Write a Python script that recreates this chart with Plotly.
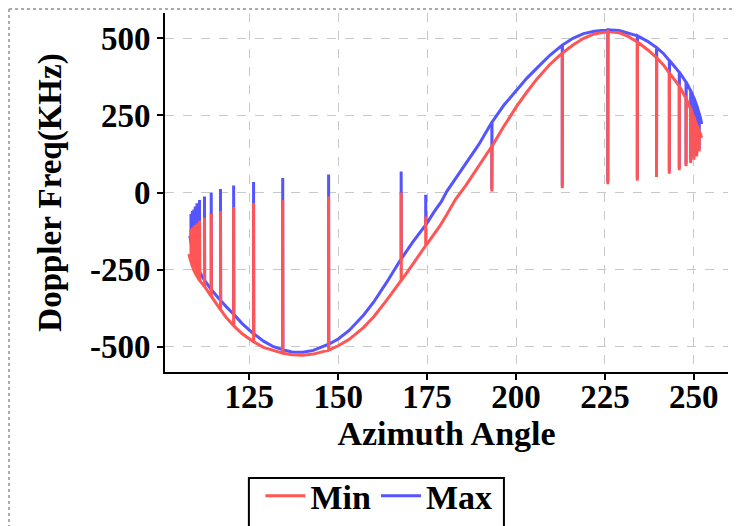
import plotly.graph_objects as go

# main curves (azimuth deg, doppler KHz)
min_az = [108.0, 108.6, 109.0, 109.4, 109.8, 110.3, 111.0, 112.4, 114.3, 116.9,
          118.5, 120.6, 123.0, 126.2, 129.0, 131.8, 134.4, 137.0, 140.0, 143.0,
          147.3, 150.0, 153.0, 157.1, 160.0, 163.7, 167.7, 171.0, 174.6, 176.5,
          178.5, 180.5, 183.0, 186.0, 189.5, 193.2, 196.5, 200.2, 203.0, 206.0,
          209.5, 213.0, 216.0, 219.0, 222.0, 225.8, 229.0, 231.5, 234.1, 237.0,
          239.5, 241.5, 243.1, 245.9, 247.8, 249.1, 250.0, 250.8, 251.5, 252.0,
          252.2]
min_val = [-200, -225, -240, -252, -262, -272, -285, -305, -337, -380,
           -405, -432, -458, -484, -502, -513, -521, -526, -528, -524,
           -511, -497, -477, -438, -403, -348, -285, -232, -172, -142,
           -110, -72, -22, 25, 85, 150, 213, 280, 325, 370,
           415, 452, 478, 500, 514, 522, 518, 506, 488, 463,
           437, 413, 387, 345, 305, 270, 244, 218, 198, 185,
           177]

max_az = [108.3, 108.6, 109.0, 109.4, 109.8, 110.3, 111.0, 112.4, 114.3, 116.9,
          118.5, 120.6, 123.0, 126.2, 129.0, 131.8, 134.4, 137.0, 140.0, 143.0,
          147.3, 150.0, 153.0, 157.1, 160.0, 163.7, 167.7, 171.0, 174.6, 177.0,
          179.0, 180.5, 183.0, 186.0, 189.5, 193.2, 196.5, 200.2, 203.0, 206.0,
          209.5, 213.0, 216.0, 219.0, 222.0, 225.8, 229.0, 232.0, 234.1, 237.0,
          239.5, 241.5, 243.1, 245.9, 247.8, 249.1, 250.0, 250.8, 251.5, 252.0,
          252.2]
max_val = [-140, -165, -190, -210, -225, -240, -258, -285, -315, -350,
           -370, -395, -425, -458, -482, -500, -510, -517, -518, -512,
           -492, -475, -448, -398, -355, -290, -215, -160, -105, -62,
           -30, 3, 45, 95, 155, 228, 282, 332, 370, 405,
           445, 478, 500, 515, 523, 527, 525, 516, 508, 490,
           470, 450, 428, 390, 358, 330, 306, 282, 255, 235,
           222]

# spikes: azimuth -> tip value
spike_az = [108.6, 109.0, 109.4, 109.8, 110.3, 111.0, 112.4, 114.3, 116.9, 120.6,
            126.2, 134.4, 147.3, 167.7, 174.6, 193.2, 213.0, 225.8, 234.1, 239.5,
            243.1, 245.9, 247.8, 249.1, 250.0, 250.8, 251.5]
spike_min = [-120, -115, -110, -105, -100, -92, -81, -70, -60, -47,
             -35, -24, -13, 0, -78, 3, 14, 27, 38, 50,
             61, 72, 85, 96, 106, 117, 133]
spike_max = [-70, -60, -55, -45, -35, -24, -13, 0, 11, 23,
             34, 47, 58, 68, -7, 12, 22, 35, 45, 58,
             70, 80, 92, 104, 114, 124, 140]

x_ticks = [125, 150, 175, 200, 225, 250]
y_ticks = [-500, -250, 0, 250, 500]
y_labels = ["-500", "-250", "0", "250", "500"]


def with_spikes(az, val, tips):
    tip = dict(zip(spike_az, tips))
    xs, ys = [], []
    for a, v in zip(az, val):
        xs.append(a)
        ys.append(v)
        if a in tip:
            xs += [a, a + 0.05]
            ys += [tip[a], v]
    return xs, ys


mx, my = with_spikes(max_az, max_val, spike_max)
nx, ny = with_spikes(min_az, min_val, spike_min)

font = "Liberation Serif"
fig = go.Figure()
fig.add_trace(go.Scatter(x=mx, y=my, mode="lines", name="Max",
                         line=dict(color="rgb(85,85,255)", width=3)))
fig.add_trace(go.Scatter(x=nx, y=ny, mode="lines", name="Min",
                         line=dict(color="rgb(255,85,85)", width=3)))

axis = dict(showline=True, linecolor="black", linewidth=2, automargin=False,
            ticks="outside", ticklen=6, tickwidth=2, tickcolor="black",
            showgrid=True, gridcolor="#c8c8c8", griddash="dash", gridwidth=1,
            zeroline=False, tickfont=dict(size=33, family=font, color="black", weight="bold"))

fig.update_layout(
    width=742, height=526,
    margin=dict(l=157, r=22, t=5, b=162, autoexpand=False),
    paper_bgcolor="white", plot_bgcolor="white",
    font=dict(family=font, color="black", weight="bold"),
    xaxis=dict(axis, range=[101.3, 259.6], tickvals=x_ticks, tickangle=0, ticklabelstandoff=-12,
               title=dict(text="Azimuth Angle", font=dict(size=34, family=font, weight="bold"), standoff=4)),
    yaxis=dict(axis, range=[-582, 582], tickvals=y_ticks, ticktext=y_labels,
               title=dict(text="Doppler Freq(KHz)", font=dict(size=33, family=font, weight="bold"), standoff=18)),
    legend=dict(orientation="h", traceorder="reversed", x=0.38, xanchor="center",
                y=-0.265, yanchor="top", borderwidth=0, bgcolor="rgba(0,0,0,0)", itemwidth=40,
                font=dict(size=34, family=font, weight="bold")),
    shapes=[
        dict(type="line", xref="paper", yref="paper", x0=-0.277, x1=-0.277, y0=1.011, y1=-0.6,
             line=dict(color="#aaaaaa", width=2, dash="dot")),
        dict(type="line", xref="paper", yref="paper", x0=-0.277, x1=1.1, y0=1.011, y1=1.011,
             line=dict(color="#aaaaaa", width=2, dash="dot")),
        # legend frame
        dict(type="rect", xref="paper", yref="paper", x0=0.149, x1=0.602, y0=-0.295, y1=-0.6,
             line=dict(color="black", width=2)),
    ],
)

fig.write_html("out.html")
